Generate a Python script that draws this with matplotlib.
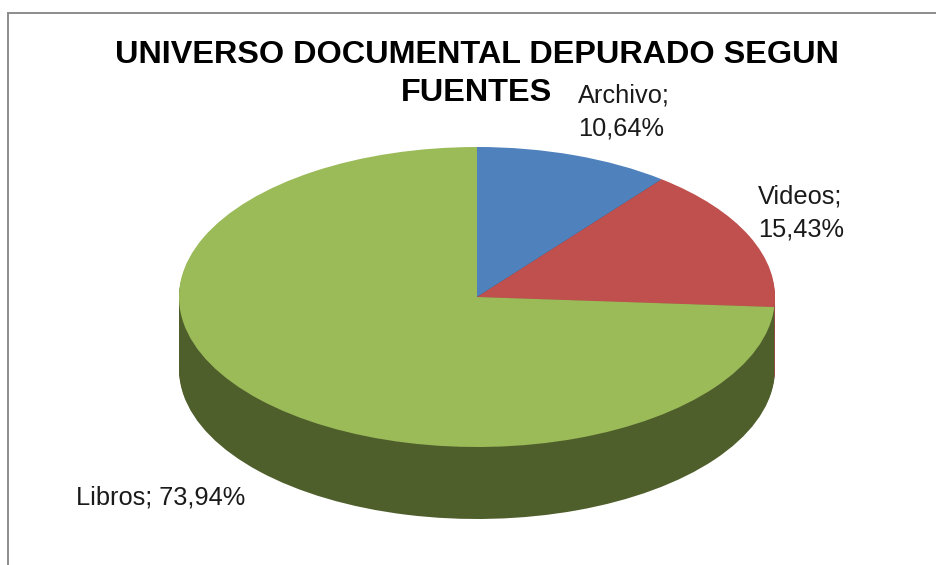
import matplotlib
matplotlib.use("Agg")
import matplotlib.pyplot as plt
from matplotlib.lines import Line2D
import numpy as np

categories = ["Archivo", "Videos", "Libros"]
values = [10.64, 15.43, 73.94]
colors = ["#4f81bd", "#c0504d", "#9bbb59"]
side_colors = ["#2f4d71", "#a04644", "#4f5f2c"]
title_lines = ["UNIVERSO DOCUMENTAL DEPURADO SEGUN", "FUENTES"]

W, H = 937, 565
CX, CY, RX, RY = 477, 297, 298, 150
DEPTH = 72 / RY

plt.rcParams["font.family"] = ["Liberation Sans", "DejaVu Sans"]

fig = plt.figure(figsize=(W / 100, H / 100), dpi=100)
ax = fig.add_axes([0, 0, 1, 1])

# side of the pie: same pie stacked downwards in darker colours
for off in np.arange(DEPTH, 0, -0.01):
    ax.pie(values, colors=side_colors, startangle=90, counterclock=False,
           center=(0, -off), radius=1)
ax.pie(values, colors=colors, startangle=90, counterclock=False, center=(0, 0), radius=1)

# squash the circle into the ellipse
ax.set_aspect("auto")
ax.set_xlim(-CX / RX, (W - CX) / RX)
ax.set_ylim((CY - H) / RY, CY / RY)
ax.axis("off")

# chart frame, only left and top edges are visible
fig.add_artist(Line2D([8.5 / W, 8.5 / W], [0, 1 - 13 / H], color="#8c8c8c", lw=1.4))
fig.add_artist(Line2D([8 / W, 1], [1 - 13 / H, 1 - 13 / H], color="#8c8c8c", lw=1.4))

# title lines are drawn apart so the short one stays clear of the Archivo label
for line, y in zip(title_lines, [55, 93]):
    fig.text(477 / W, 1 - y / H, line, ha="center", va="center", fontsize=23.3,
             fontweight="bold", color="black")

label_pos = [(578, 112), (758, 213), (76, 498)]
for i in range(3):
    pct = f"{values[i]:.2f}".replace(".", ",") + "%"
    sep = " " if categories[i] == "Libros" else "\n"
    fig.text(label_pos[i][0] / W, 1 - label_pos[i][1] / H,
             f"{categories[i]};{sep}{pct}", ha="left", va="center",
             fontsize=18.3, color="#1a1a1a", linespacing=1.52)

fig.savefig("out.png", dpi=100)
